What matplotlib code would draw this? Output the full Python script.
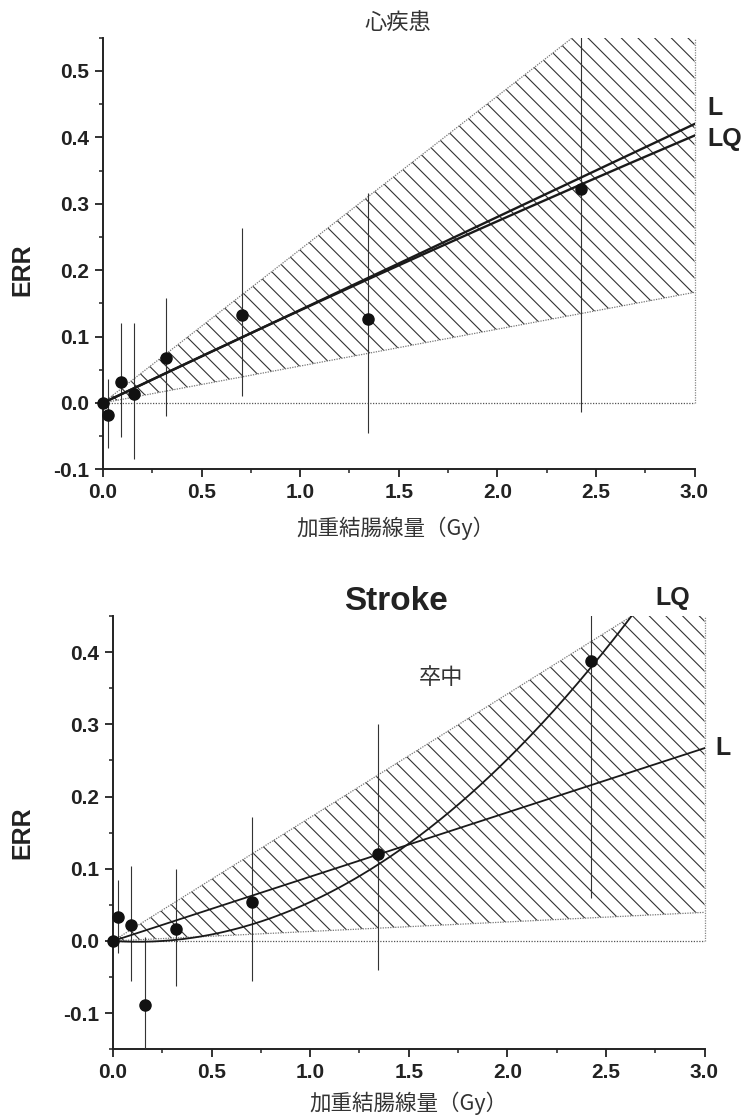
import numpy as np
import matplotlib
matplotlib.use("Agg")
import matplotlib.pyplot as plt
from matplotlib.ticker import MultipleLocator, FormatStrFormatter

# ---------------- data ----------------
heart_dose = [0.0, 0.024, 0.089, 0.159, 0.321, 0.705, 1.346, 2.424]
heart_err = [0.0, -0.018, 0.032, 0.0135, 0.068, 0.132, 0.126, 0.322]
heart_lo = [0.0, -0.068, -0.051, -0.085, -0.019, 0.0105, -0.045, -0.014]
heart_hi = [0.0, 0.036, 0.120, 0.120, 0.158, 0.263, 0.316, 0.66]
heart_L_slope = 0.14
heart_LQ_coef = [0.142, -0.0026]
heart_band_slopes = [0.0555, 0.231]

stroke_dose = [0.0, 0.024, 0.089, 0.162, 0.321, 0.706, 1.344, 2.424]
stroke_err = [0.0, 0.033, 0.022, -0.088, 0.017, 0.054, 0.121, 0.388]
stroke_lo = [0.0, -0.017, -0.056, -0.19, -0.062, -0.055, -0.040, 0.059]
stroke_hi = [0.0, 0.084, 0.104, 0.006, 0.100, 0.172, 0.300, 0.72]
stroke_L_slope = 0.089
stroke_LQ_coef = [-0.018, 0.0719]
stroke_band_slopes = [0.0132, 0.171]

xticks = [0.0, 0.5, 1.0, 1.5, 2.0, 2.5, 3.0]
xlabel = "加重結腸線量（Gy）"
ylabel = "ERR"

W, H = 745, 1115
plt.rcParams['hatch.linewidth'] = 0.8
plt.rcParams['hatch.color'] = '#333333'
fig = plt.figure(figsize=(W / 100, H / 100), dpi=100)

LAT = ['Liberation Sans', 'DejaVu Sans']
CJK = ['Noto Sans CJK JP', 'DejaVu Sans']


def px(x, y):
    return x / W, 1 - y / H


def setup(ax, ylim, yticks):
    ax.set_xlim(0, 3.0)
    ax.set_ylim(*ylim)
    for s in ['top', 'right']:
        ax.spines[s].set_visible(False)
    for s in ['left', 'bottom']:
        ax.spines[s].set_linewidth(1.4)
        ax.spines[s].set_color('#222222')
    ax.set_xticks(xticks)
    ax.set_yticks(yticks)
    ax.xaxis.set_minor_locator(MultipleLocator(0.25))
    ax.yaxis.set_minor_locator(MultipleLocator(0.05))
    ax.xaxis.set_major_formatter(FormatStrFormatter('%.1f'))
    ax.yaxis.set_major_formatter(FormatStrFormatter('%.1f'))
    ax.tick_params(which='major', direction='out', length=6, width=1.3, color='#222222', pad=4)
    ax.tick_params(which='minor', direction='out', length=3, width=1.1, color='#222222')
    for lab in ax.get_xticklabels() + ax.get_yticklabels():
        lab.set_fontfamily(LAT)
        lab.set_fontweight('bold')
        lab.set_fontsize(15)
        lab.set_color('#222222')


def draw(ax, dose, err, lo, hi, band, Ls, LQc, ymax, lw_fit):
    xs = np.linspace(0, 3.0, 300)
    lower = band[0] * xs
    upper = band[1] * xs
    ax.fill_between(xs, lower, upper, facecolor='none', edgecolor='#333333',
                    hatch='\\\\', linewidth=0, zorder=1)
    ax.plot(xs, lower, linestyle=(0, (1, 1)), color='#777777', lw=0.9, zorder=2)
    ax.plot(xs, upper, linestyle=(0, (1, 1)), color='#777777', lw=0.9, zorder=2)
    ax.plot([0, 3.0], [0, 0], linestyle=(0, (1, 1.2)), color='#555555', lw=0.9, zorder=2)
    ax.plot([3.0, 3.0], [0, ymax], linestyle=(0, (1, 1)), color='#888888', lw=0.9, zorder=2,
            clip_on=False)
    ax.plot(xs, Ls * xs, color='#1a1a1a', lw=lw_fit, zorder=4)
    ax.plot(xs, LQc[0] * xs + LQc[1] * xs ** 2, color='#1a1a1a', lw=lw_fit, zorder=4)
    d = np.array(dose)
    ax.vlines(d, lo, hi, color='#333333', lw=0.8, zorder=3)
    ax.plot(d, err, 'o', color='#111111', ms=8, zorder=5, clip_on=False)


# ---------------- top panel ----------------
ax1 = fig.add_axes([103 / W, 1 - 469.3 / H, (694.5 - 103) / W, (469.3 - 37.7) / H])
draw(ax1, heart_dose, heart_err, heart_lo, heart_hi, heart_band_slopes,
     heart_L_slope, heart_LQ_coef, 0.55, 1.7)
setup(ax1, (-0.1, 0.55), [-0.1, 0.0, 0.1, 0.2, 0.3, 0.4, 0.5])

fig.text(*px(398, 23), "心疾患", family=CJK, fontsize=16, color='#333333',
         ha='center', va='center')
fig.text(*px(22, 270), ylabel, family=LAT, fontweight='bold', fontsize=18,
         rotation=90, ha='center', va='center', color='#222222')
fig.text(*px(395, 528), xlabel, family=CJK, fontsize=15.5, color='#333333',
         ha='center', va='center')
fig.text(*px(707, 108), "L", family=LAT, fontweight='bold', fontsize=18,
         ha='left', va='center', color='#222222')
fig.text(*px(707, 139), "LQ", family=LAT, fontweight='bold', fontsize=18,
         ha='left', va='center', color='#222222')

# ---------------- bottom panel ----------------
ax2 = fig.add_axes([113 / W, 1 - 1049.3 / H, 591.5 / W, (1049.3 - 616) / H])
draw(ax2, stroke_dose, stroke_err, stroke_lo, stroke_hi, stroke_band_slopes,
     stroke_L_slope, stroke_LQ_coef, 0.45, 1.3)
setup(ax2, (-0.15, 0.45), [-0.1, 0.0, 0.1, 0.2, 0.3, 0.4])

fig.text(*px(396, 602), "Stroke", family=LAT, fontweight='bold', fontsize=24,
         ha='center', va='center', color='#222222')
fig.text(*px(441, 677), "卒中", family=CJK, fontsize=16, color='#333333',
         ha='center', va='center')
fig.text(*px(22, 833), ylabel, family=LAT, fontweight='bold', fontsize=18,
         rotation=90, ha='center', va='center', color='#222222')
fig.text(*px(408, 1103), xlabel, family=CJK, fontsize=15.5, color='#333333',
         ha='center', va='center')
fig.text(*px(655, 598), "LQ", family=LAT, fontweight='bold', fontsize=18,
         ha='left', va='center', color='#222222')
fig.text(*px(715, 748), "L", family=LAT, fontweight='bold', fontsize=18,
         ha='left', va='center', color='#222222')

fig.savefig("out.png", dpi=100)
